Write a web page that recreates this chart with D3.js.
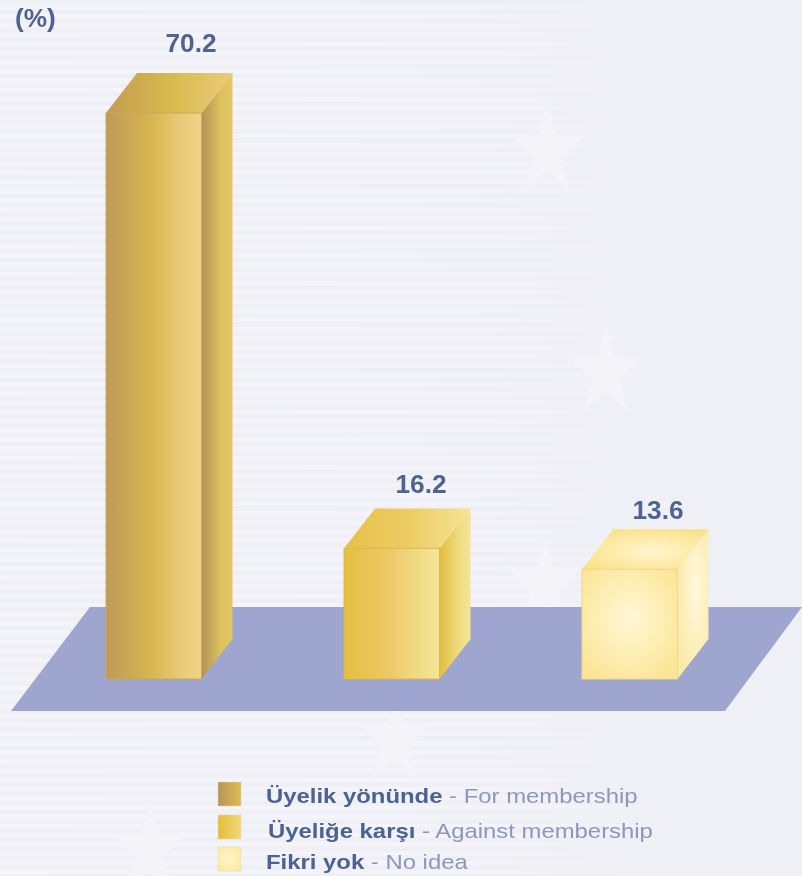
<!DOCTYPE html>
<html>
<head>
<meta charset="utf-8">
<script src="https://cdn.jsdelivr.net/npm/d3@7"></script>
<style>
  html, body { margin: 0; padding: 0; background: #efeff6; }
  svg { display: block; }
  text { font-family: "Liberation Sans", Arial, sans-serif; }
</style>
</head>
<body>
<svg id="chart" width="802" height="876"></svg>
<script>
var categories = ["Üyelik yönünde", "Üyeliğe karşı", "Fikri yok"];
var englishLabels = ["For membership", "Against membership", "No idea"];
var values = [70.2, 16.2, 13.6];
var valueLabels = ["70.2", "16.2", "13.6"];
var unitLabel = "(%)";

var svg = d3.select("#chart");
var defs = svg.append("defs");

// depth of the fake 3d boxes
var depthX = 31, depthY = -40;
var bw = 95.5;

var x = d3.scalePoint().domain(categories).range([106, 582]);
var y = d3.scaleLinear().domain([0, 70.2]).range([679, 113]);

function linear(id, stops) {
  var g = defs.append("linearGradient").attr("id", id);
  stops.forEach(function(s) {
    g.append("stop").attr("offset", s[0]).attr("stop-color", s[1]);
  });
}
function radial(id, cx, cy, r, stops) {
  var g = defs.append("radialGradient").attr("id", id)
    .attr("cx", cx).attr("cy", cy).attr("r", r);
  stops.forEach(function(s) {
    g.append("stop").attr("offset", s[0]).attr("stop-color", s[1]);
  });
}

linear("front0", [[0, "#bf9a58"], [0.5, "#d8b850"], [0.75, "#e8c873"], [1, "#f0d488"]]);
linear("side0", [[0, "#b09358"], [0.6, "#dcc05c"], [1, "#e3c868"]]);
linear("top0", [[0, "#c49c50"], [0.55, "#d8bc50"], [1, "#ebca7c"]]);
linear("front1", [[0, "#e5bf3e"], [0.45, "#edc866"], [1, "#f4e79a"]]);
linear("side1", [[0, "#e2bc3e"], [0.6, "#efda7c"], [1, "#f4e69a"]]);
linear("top1", [[0, "#e6c046"], [0.5, "#edcc62"], [1, "#f3e496"]]);
radial("front2", 0.5, 0.45, 0.65, [[0, "#fff8d6"], [1, "#fbe594"]]);
radial("side2", 0.6, 0.4, 0.7, [[0, "#fff8dc"], [1, "#fbe9a4"]]);
radial("top2", 0.55, 0.55, 0.6, [[0, "#fff6cc"], [1, "#fae28c"]]);
linear("swatch0", [[0, "#b8945a"], [1, "#dcbc55"]]);
linear("swatch1", [[0, "#e4bc3c"], [1, "#f2d878"]]);
radial("swatch2", 0.5, 0.5, 0.7, [[0, "#fff6cc"], [1, "#fbe69c"]]);

linear("stripeFade", [[0, "#f4f4f9"], [0.7, "#f3f3f8"], [1, "#efeff6"]]);

var soft = defs.append("filter").attr("id", "soft")
  .attr("x", "-5%").attr("y", "-5%").attr("width", "110%").attr("height", "110%");
soft.append("feGaussianBlur").attr("stdDeviation", 0.6);

// background stripes and stars
var bg = svg.append("g");
bg.append("rect").attr("width", 802).attr("height", 876).attr("fill", "#efeff6");
bg.selectAll("rect.stripe").data(d3.range(5, 876, 9.2)).join("rect")
  .attr("class", "stripe")
  .attr("x", 0)
  .attr("y", function(d) { return d; })
  .attr("width", 700)
  .attr("height", 4.2)
  .attr("fill", "url(#stripeFade)");

var starSpots = [[547, 152], [606, 373], [545, 585], [150, 850], [395, 740]];
bg.selectAll("path.star").data(starSpots).join("path")
  .attr("class", "star")
  .attr("d", d3.symbol(d3.symbolStar, 2200)())
  .attr("transform", function(d) { return "translate(" + d[0] + "," + d[1] + ") scale(0.85,1.1)"; })
  .attr("fill", "#f3f3f8");

// floor
var floorPts = [[11, 711], [725, 711], [802, 607], [90, 607]];
svg.append("path")
  .attr("d", d3.line()(floorPts) + "Z")
  .attr("fill", "#9ea5ce")
  .attr("filter", "url(#soft)");

// boxes
var boxes = svg.append("g").selectAll("g").data(categories).join("g")
  .attr("filter", "url(#soft)");

var edge = ["#c9a860", "#dcb94e", "#eed98c"];

boxes.append("path") // side
  .attr("d", function(d, i) {
    var r = x(d) + bw, t = y(values[i]), b = y(0);
    return d3.line()([[r, t], [r + depthX, t + depthY], [r + depthX, b + depthY], [r, b]]) + "Z";
  })
  .attr("fill", function(d, i) { return "url(#side" + i + ")"; });

boxes.append("path") // top
  .attr("d", function(d, i) {
    var l = x(d), r = l + bw, t = y(values[i]);
    return d3.line()([[l, t], [l + depthX, t + depthY], [r + depthX, t + depthY], [r, t]]) + "Z";
  })
  .attr("fill", function(d, i) { return "url(#top" + i + ")"; });

boxes.append("rect") // front
  .attr("x", function(d) { return x(d); })
  .attr("y", function(d, i) { return y(values[i]); })
  .attr("width", bw)
  .attr("height", function(d, i) { return y(0) - y(values[i]); })
  .attr("fill", function(d, i) { return "url(#front" + i + ")"; })
  .attr("stroke", function(d, i) { return edge[i]; })
  .attr("stroke-width", 1);

// value labels, the original text is a little stretched sideways
var labelDx = [85, 77, 76];
var labelDy = [-21, -15, -10];

svg.append("g").selectAll("text").data(categories).join("text")
  .attr("transform", function(d, i) {
    return "translate(" + (x(d) + labelDx[i]) + "," + (y(values[i]) + depthY + labelDy[i]) + ") scale(1.05,1)";
  })
  .attr("text-anchor", "middle")
  .attr("font-size", 25)
  .attr("font-weight", "bold")
  .attr("fill", "#50648f")
  .attr("filter", "url(#soft)")
  .text(function(d, i) { return valueLabels[i]; });

svg.append("text")
  .attr("transform", "translate(15,27) scale(1.05,1)")
  .attr("font-size", 25)
  .attr("font-weight", "bold")
  .attr("fill", "#50648f")
  .attr("filter", "url(#soft)")
  .text(unitLabel);

// legend
var swatchY = [782, 815, 847];
var textY = [803, 838, 869];
var textX = [266, 268, 266];

var legend = svg.append("g").selectAll("g").data(categories).join("g");
legend.append("rect")
  .attr("x", 218)
  .attr("y", function(d, i) { return swatchY[i]; })
  .attr("width", 23)
  .attr("height", 24)
  .attr("stroke", "#e6d9a8")
  .attr("stroke-width", 0.5)
  .attr("fill", function(d, i) { return "url(#swatch" + i + ")"; })
  .attr("filter", "url(#soft)");

var labels = legend.append("text")
  .attr("transform", function(d, i) { return "translate(" + textX[i] + "," + textY[i] + ") scale(1.195,1)"; })
  .attr("font-size", 20)
  .attr("filter", "url(#soft)");
labels.append("tspan")
  .attr("font-weight", "bold")
  .attr("fill", "#4c6295")
  .text(function(d) { return d; });
labels.append("tspan")
  .attr("fill", "#8d97b8")
  .text(function(d, i) { return " - " + englishLabels[i]; });
</script>
</body>
</html>
